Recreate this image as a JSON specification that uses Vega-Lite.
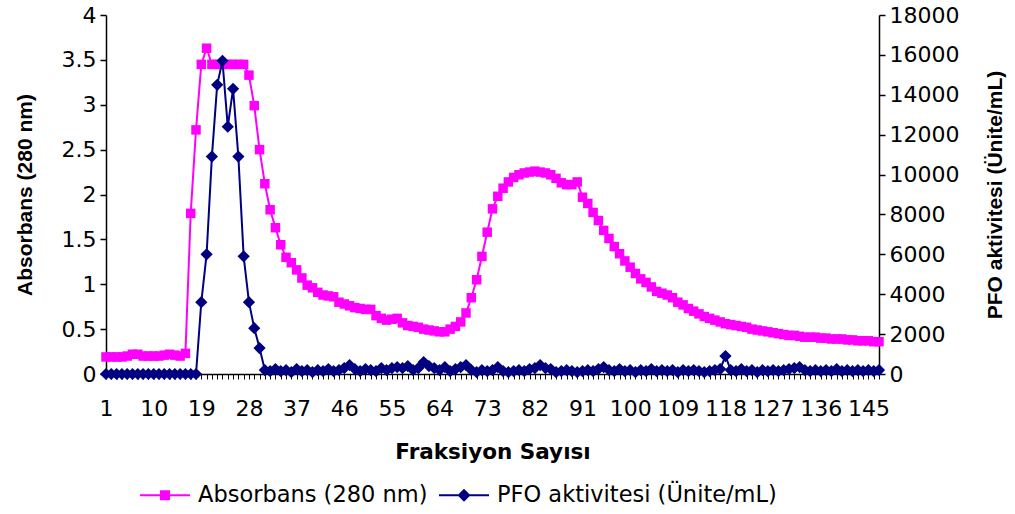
{
  "$schema": "https://vega.github.io/schema/vega-lite/v6.json",
  "width": 773,
  "height": 359,
  "autosize": {"type": "none"},
  "padding": {"left": 106, "top": 15, "right": 136, "bottom": 140},
  "background": "white",
  "config": {
    "view": {"stroke": null},
    "font": "DejaVu Sans",
    "axis": {
      "domainColor": "black", "tickColor": "black", "labelColor": "black", "titleColor": "black",
      "grid": false, "labelFont": "DejaVu Sans", "titleFont": "Liberation Sans",
      "labelFontSize": 22, "titleFontSize": 21, "domainWidth": 1.5, "tickWidth": 1.5
    }
  },
  "datasets": {
    "abs": [
      {"f":1,"v":0.19},{"f":2,"v":0.19},{"f":3,"v":0.19},{"f":4,"v":0.19},{"f":5,"v":0.20},{"f":6,"v":0.22},{"f":7,"v":0.22},{"f":8,"v":0.20},{"f":9,"v":0.20},{"f":10,"v":0.20},
      {"f":11,"v":0.20},{"f":12,"v":0.21},{"f":13,"v":0.22},{"f":14,"v":0.21},{"f":15,"v":0.20},{"f":16,"v":0.23},{"f":17,"v":1.79},{"f":18,"v":2.72},{"f":19,"v":3.45},{"f":20,"v":3.63},
      {"f":21,"v":3.45},{"f":22,"v":3.45},{"f":23,"v":3.45},{"f":24,"v":3.45},{"f":25,"v":3.45},{"f":26,"v":3.45},{"f":27,"v":3.45},{"f":28,"v":3.33},{"f":29,"v":2.99},{"f":30,"v":2.50},
      {"f":31,"v":2.12},{"f":32,"v":1.83},{"f":33,"v":1.63},{"f":34,"v":1.44},{"f":35,"v":1.30},{"f":36,"v":1.24},{"f":37,"v":1.16},{"f":38,"v":1.07},{"f":39,"v":0.99},{"f":40,"v":0.96},
      {"f":41,"v":0.91},{"f":42,"v":0.88},{"f":43,"v":0.87},{"f":44,"v":0.86},{"f":45,"v":0.80},{"f":46,"v":0.78},{"f":47,"v":0.76},{"f":48,"v":0.74},{"f":49,"v":0.73},{"f":50,"v":0.72},
      {"f":51,"v":0.72},{"f":52,"v":0.65},{"f":53,"v":0.62},{"f":54,"v":0.60},{"f":55,"v":0.61},{"f":56,"v":0.62},{"f":57,"v":0.57},{"f":58,"v":0.54},{"f":59,"v":0.53},{"f":60,"v":0.52},
      {"f":61,"v":0.50},{"f":62,"v":0.49},{"f":63,"v":0.48},{"f":64,"v":0.47},{"f":65,"v":0.47},{"f":66,"v":0.50},{"f":67,"v":0.53},{"f":68,"v":0.58},{"f":69,"v":0.68},{"f":70,"v":0.85},
      {"f":71,"v":1.05},{"f":72,"v":1.31},{"f":73,"v":1.58},{"f":74,"v":1.84},{"f":75,"v":1.98},{"f":76,"v":2.07},{"f":77,"v":2.14},{"f":78,"v":2.19},{"f":79,"v":2.22},{"f":80,"v":2.24},
      {"f":81,"v":2.25},{"f":82,"v":2.26},{"f":83,"v":2.25},{"f":84,"v":2.24},{"f":85,"v":2.22},{"f":86,"v":2.18},{"f":87,"v":2.13},{"f":88,"v":2.11},{"f":89,"v":2.11},{"f":90,"v":2.14},
      {"f":91,"v":1.97},{"f":92,"v":1.90},{"f":93,"v":1.80},{"f":94,"v":1.71},{"f":95,"v":1.60},{"f":96,"v":1.51},{"f":97,"v":1.42},{"f":98,"v":1.34},{"f":99,"v":1.26},{"f":100,"v":1.19},
      {"f":101,"v":1.12},{"f":102,"v":1.06},{"f":103,"v":1.02},{"f":104,"v":0.97},{"f":105,"v":0.92},{"f":106,"v":0.90},{"f":107,"v":0.88},{"f":108,"v":0.85},{"f":109,"v":0.80},{"f":110,"v":0.77},
      {"f":111,"v":0.73},{"f":112,"v":0.70},{"f":113,"v":0.67},{"f":114,"v":0.64},{"f":115,"v":0.62},{"f":116,"v":0.60},{"f":117,"v":0.58},{"f":118,"v":0.56},{"f":119,"v":0.55},{"f":120,"v":0.54},
      {"f":121,"v":0.53},{"f":122,"v":0.52},{"f":123,"v":0.50},{"f":124,"v":0.49},{"f":125,"v":0.48},{"f":126,"v":0.47},{"f":127,"v":0.46},{"f":128,"v":0.45},{"f":129,"v":0.44},{"f":130,"v":0.43},
      {"f":131,"v":0.43},{"f":132,"v":0.42},{"f":133,"v":0.41},{"f":134,"v":0.41},{"f":135,"v":0.41},{"f":136,"v":0.40},{"f":137,"v":0.40},{"f":138,"v":0.39},{"f":139,"v":0.39},{"f":140,"v":0.39},
      {"f":141,"v":0.38},{"f":142,"v":0.38},{"f":143,"v":0.37},{"f":144,"v":0.37},{"f":145,"v":0.37},{"f":146,"v":0.36},{"f":147,"v":0.36}
    ],
    "pfo": [
      {"f":1,"v":0},{"f":2,"v":0},{"f":3,"v":0},{"f":4,"v":0},{"f":5,"v":0},{"f":6,"v":0},{"f":7,"v":0},{"f":8,"v":0},{"f":9,"v":0},{"f":10,"v":0},
      {"f":11,"v":0},{"f":12,"v":0},{"f":13,"v":0},{"f":14,"v":0},{"f":15,"v":0},{"f":16,"v":0},{"f":17,"v":0},{"f":18,"v":0},{"f":19,"v":3600},{"f":20,"v":6000},
      {"f":21,"v":10900},{"f":22,"v":14500},{"f":23,"v":15700},{"f":24,"v":12400},{"f":25,"v":14300},{"f":26,"v":10900},{"f":27,"v":5900},{"f":28,"v":3600},{"f":29,"v":2300},{"f":30,"v":1300},
      {"f":31,"v":200},{"f":32,"v":150},{"f":33,"v":250},{"f":34,"v":150},{"f":35,"v":200},{"f":36,"v":100},{"f":37,"v":250},{"f":38,"v":150},{"f":39,"v":200},{"f":40,"v":100},
      {"f":41,"v":200},{"f":42,"v":150},{"f":43,"v":250},{"f":44,"v":150},{"f":45,"v":200},{"f":46,"v":300},{"f":47,"v":450},{"f":48,"v":250},{"f":49,"v":150},{"f":50,"v":250},
      {"f":51,"v":200},{"f":52,"v":150},{"f":53,"v":300},{"f":54,"v":200},{"f":55,"v":300},{"f":56,"v":350},{"f":57,"v":300},{"f":58,"v":400},{"f":59,"v":200},{"f":60,"v":300},
      {"f":61,"v":600},{"f":62,"v":400},{"f":63,"v":300},{"f":64,"v":200},{"f":65,"v":350},{"f":66,"v":150},{"f":67,"v":250},{"f":68,"v":350},{"f":69,"v":450},{"f":70,"v":200},
      {"f":71,"v":100},{"f":72,"v":200},{"f":73,"v":150},{"f":74,"v":200},{"f":75,"v":350},{"f":76,"v":150},{"f":77,"v":100},{"f":78,"v":150},{"f":79,"v":200},{"f":80,"v":150},
      {"f":81,"v":250},{"f":82,"v":300},{"f":83,"v":450},{"f":84,"v":300},{"f":85,"v":250},{"f":86,"v":100},{"f":87,"v":150},{"f":88,"v":200},{"f":89,"v":150},{"f":90,"v":100},
      {"f":91,"v":150},{"f":92,"v":200},{"f":93,"v":150},{"f":94,"v":250},{"f":95,"v":350},{"f":96,"v":200},{"f":97,"v":150},{"f":98,"v":250},{"f":99,"v":150},{"f":100,"v":200},
      {"f":101,"v":100},{"f":102,"v":200},{"f":103,"v":150},{"f":104,"v":250},{"f":105,"v":150},{"f":106,"v":200},{"f":107,"v":150},{"f":108,"v":200},{"f":109,"v":100},{"f":110,"v":200},
      {"f":111,"v":150},{"f":112,"v":200},{"f":113,"v":150},{"f":114,"v":100},{"f":115,"v":150},{"f":116,"v":200},{"f":117,"v":250},{"f":118,"v":900},{"f":119,"v":200},{"f":120,"v":150},
      {"f":121,"v":250},{"f":122,"v":150},{"f":123,"v":200},{"f":124,"v":100},{"f":125,"v":200},{"f":126,"v":150},{"f":127,"v":200},{"f":128,"v":150},{"f":129,"v":200},{"f":130,"v":250},
      {"f":131,"v":300},{"f":132,"v":350},{"f":133,"v":200},{"f":134,"v":150},{"f":135,"v":200},{"f":136,"v":150},{"f":137,"v":200},{"f":138,"v":150},{"f":139,"v":250},{"f":140,"v":150},
      {"f":141,"v":200},{"f":142,"v":150},{"f":143,"v":200},{"f":144,"v":150},{"f":145,"v":200},{"f":146,"v":150},{"f":147,"v":200}
    ]
  },
  "layer": [
    {
      "data": {"name": "abs"},
      "mark": {"type": "line", "strokeWidth": 2, "point": {"shape": "square", "size": 90, "filled": true, "opacity": 1}},
      "encoding": {
        "x": {
          "field": "f", "type": "quantitative",
          "scale": {"domain": [1, 147], "nice": false, "zero": false},
          "axis": {
            "values": [1,2,3,4,5,6,7,8,9,10,11,12,13,14,15,16,17,18,19,20,21,22,23,24,25,26,27,28,29,30,31,32,33,34,35,36,37,38,39,40,41,42,43,44,45,46,47,48,49,50,51,52,53,54,55,56,57,58,59,60,61,62,63,64,65,66,67,68,69,70,71,72,73,74,75,76,77,78,79,80,81,82,83,84,85,86,87,88,89,90,91,92,93,94,95,96,97,98,99,100,101,102,103,104,105,106,107,108,109,110,111,112,113,114,115,116,117,118,119,120,121,122,123,124,125,126,127,128,129,130,131,132,133,134,135,136,137,138,139,140,141,142,143,144,145,146,147],
            "tickCount": 300,
            "format": "d",
            "labelExpr": "(datum.value - 1) % 9 === 0 ? datum.label : ''",
            "labelOverlap": false, "labelFlush": false, "labelBound": false,
            "tickSize": 5, "tickWidth": 1, "labelPadding": 19,
            "title": "Fraksiyon Sayısı", "titleFont": "DejaVu Sans", "titleFontSize": 21.5, "titleFontWeight": "bold", "titlePadding": 22
          }
        },
        "y": {
          "field": "v", "type": "quantitative",
          "scale": {"domain": [0, 4], "nice": false},
          "axis": {
            "values": [0, 0.5, 1, 1.5, 2, 2.5, 3, 3.5, 4], "format": "~g",
            "tickSize": 6, "labelPadding": 4,
            "title": "Absorbans (280 nm)", "titleFontWeight": "bold", "titlePadding": 26
          }
        },
        "color": {
          "datum": "Absorbans (280 nm)", "type": "nominal",
          "scale": {"domain": ["Absorbans (280 nm)", "PFO aktivitesi (Ünite/mL)"], "range": ["#FF00FF", "#000080"]},
          "legend": {
            "orient": "none", "legendX": 34, "legendY": 455, "direction": "horizontal", "title": null,
            "symbolSize": 2500, "labelFontSize": 22.5, "labelFont": "DejaVu Sans", "labelColor": "black",
            "labelOffset": 8, "columnPadding": 11, "labelLimit": 0,
            "encode": {
              "symbols": {
                "update": {
                  "shape": {"signal": "datum.index === 0 ? 'M-1,-0.04H1V0.04H-1Z M-0.2,-0.2H0.2V0.2H-0.2Z' : 'M-1,-0.04H1V0.04H-1Z M0,-0.26L0.26,0L0,0.26L-0.26,0Z'"},
                  "fill": {"signal": "datum.index === 0 ? '#FF00FF' : '#000080'"},
                  "stroke": {"value": "transparent"},
                  "strokeWidth": {"value": 0},
                  "opacity": {"value": 1},
                  "fillOpacity": {"value": 1}
                }
              }
            }
          }
        }
      }
    },
    {
      "data": {"name": "pfo"},
      "mark": {"type": "line", "strokeWidth": 2, "point": {"shape": "diamond", "size": 150, "filled": true, "opacity": 1}},
      "encoding": {
        "x": {"field": "f", "type": "quantitative"},
        "y": {
          "field": "v", "type": "quantitative",
          "scale": {"domain": [0, 18000], "nice": false},
          "axis": {
            "orient": "right",
            "values": [0, 2000, 4000, 6000, 8000, 10000, 12000, 14000, 16000, 18000], "format": "d",
            "tickSize": 6, "labelPadding": 4,
            "title": "PFO aktivitesi (Ünite/mL)", "titleFontWeight": "bold", "titleAngle": 270, "titleBaseline": "top", "titlePadding": 26
          }
        },
        "color": {"datum": "PFO aktivitesi (Ünite/mL)", "type": "nominal"}
      }
    }
  ],
  "resolve": {"scale": {"y": "independent"}}
}
